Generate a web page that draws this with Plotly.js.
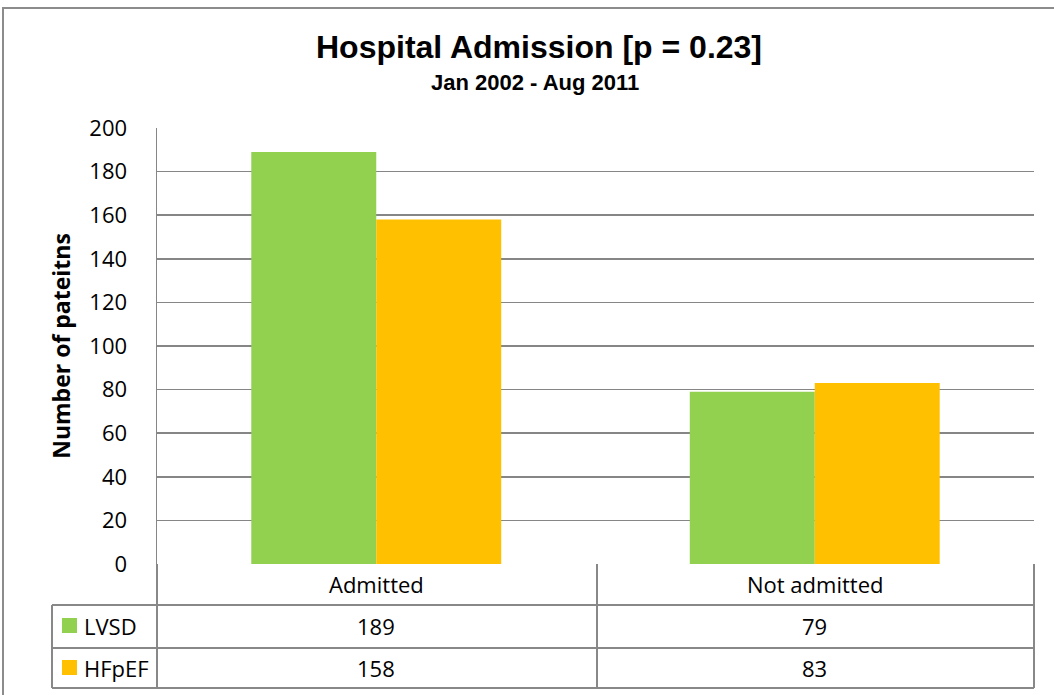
<!DOCTYPE html>
<html>
<head>
<meta charset="utf-8">
<script src="https://cdn.plot.ly/plotly-3.0.1.min.js"></script>
<style>
  html, body { margin: 0; padding: 0; background: #fff; }
  #chart { width: 1054px; height: 695px; }
</style>
</head>
<body>
<div id="chart"></div>
<script>
var categories = ['Admitted', 'Not admitted'];
var lvsd = [189, 79];
var hfpef = [158, 83];
var seriesNames = ['LVSD', 'HFpEF'];
var seriesColors = ['#92D050', '#FFC000'];

// plot box in pixels (used only to place the data table under the axis)
var W = 1054, H = 695;
var L = 157, R = 1034, T = 128, B = 564;
function px(x) { return (x - L) / (R - L); }
function py(y) { return (B - y) / (B - T); }

var trace1 = {
  x: categories,
  y: lvsd,
  type: 'bar',
  name: seriesNames[0],
  marker: { color: seriesColors[0] },
  hoverinfo: 'y'
};
var trace2 = {
  x: categories,
  y: hfpef,
  type: 'bar',
  name: seriesNames[1],
  marker: { color: seriesColors[1] },
  hoverinfo: 'y'
};

var lineColor = '#888888';
var tableFont = { family: 'Open Sans, sans-serif', size: 22, color: '#000' };

// table rows: header at 564-605, LVSD 605-648, HFpEF 648-688
var rowLines = [605, 648, 688];
var shapes = [];
// outer chart border
shapes.push({ type: 'rect', xref: 'paper', yref: 'paper',
  x0: px(3), x1: px(1070), y0: py(8), y1: py(710),
  line: { color: '#8c8c8c', width: 2 }, fillcolor: 'rgba(0,0,0,0)' });
rowLines.forEach(function (y) {
  shapes.push({ type: 'line', xref: 'paper', yref: 'paper',
    x0: px(52), x1: 1, y0: py(y), y1: py(y),
    line: { color: lineColor, width: 2 } });
});
[157, 597, 1034].forEach(function (x) {
  shapes.push({ type: 'line', xref: 'paper', yref: 'paper',
    x0: px(x), x1: px(x), y0: 0, y1: py(688),
    line: { color: lineColor, width: 2 } });
});
shapes.push({ type: 'line', xref: 'paper', yref: 'paper',
  x0: px(52), x1: px(52), y0: py(605), y1: py(688),
  line: { color: lineColor, width: 2 } });
// legend keys in the table
var rowCenters = [626, 668];
seriesColors.forEach(function (c, i) {
  shapes.push({ type: 'rect', xref: 'paper', yref: 'paper',
    x0: px(62), x1: px(77), y0: py(rowCenters[i] - 8), y1: py(rowCenters[i] + 7),
    line: { width: 0 }, fillcolor: c });
});

var annotations = [];
categories.forEach(function (cat) {
  annotations.push({ xref: 'x', yref: 'paper', x: cat, y: py(584),
    text: cat, showarrow: false, font: tableFont, xanchor: 'center', yanchor: 'middle' });
});
[lvsd, hfpef].forEach(function (vals, i) {
  annotations.push({ xref: 'paper', yref: 'paper', x: px(82), y: py(rowCenters[i]),
    text: seriesNames[i], showarrow: false, font: tableFont, xanchor: 'left', yanchor: 'middle' });
  vals.forEach(function (v, j) {
    annotations.push({ xref: 'x', yref: 'paper', x: categories[j], y: py(rowCenters[i]),
      text: String(v), showarrow: false, font: tableFont, xanchor: 'center', yanchor: 'middle' });
  });
});
// titles
annotations.push({ xref: 'paper', yref: 'paper', x: px(539), y: py(47),
  text: '<b>Hospital Admission [p = 0.23]</b>', showarrow: false,
  font: { family: 'Arial, Liberation Sans, sans-serif', size: 32, color: '#000' },
  xanchor: 'center', yanchor: 'middle' });
annotations.push({ xref: 'paper', yref: 'paper', x: px(535), y: py(82),
  text: '<b>Jan 2002 - Aug 2011</b>', showarrow: false,
  font: { family: 'Arial, Liberation Sans, sans-serif', size: 22, color: '#000' },
  xanchor: 'center', yanchor: 'middle' });

var layout = {
  width: W,
  height: H,
  margin: { l: L, r: W - R, t: T, b: H - B, pad: 0 },
  paper_bgcolor: '#fff',
  plot_bgcolor: '#fff',
  showlegend: false,
  barmode: 'group',
  bargap: 0.43,
  bargroupgap: 0,
  xaxis: {
    type: 'category',
    showticklabels: false,
    ticks: '',
    showgrid: false,
    showline: false,
    zeroline: false,
    fixedrange: true
  },
  yaxis: {
    title: { text: '<b>Number of pateitns</b>', standoff: 12,
      font: { family: 'Open Sans, sans-serif', size: 23, color: '#000' } },
    range: [0, 200],
    dtick: 20,
    tick0: 0,
    ticks: '',
    ticklabelstandoff: 24,
    tickfont: { family: 'Open Sans, sans-serif', size: 22, color: '#000' },
    showgrid: true,
    gridcolor: '#868686',
    gridwidth: 1.5,
    showline: true,
    linecolor: '#868686',
    linewidth: 1.5,
    zeroline: false,
    fixedrange: true
  },
  shapes: shapes,
  annotations: annotations
};

Plotly.newPlot('chart', [trace1, trace2], layout, { displayModeBar: false, staticPlot: true });
</script>
</body>
</html>
